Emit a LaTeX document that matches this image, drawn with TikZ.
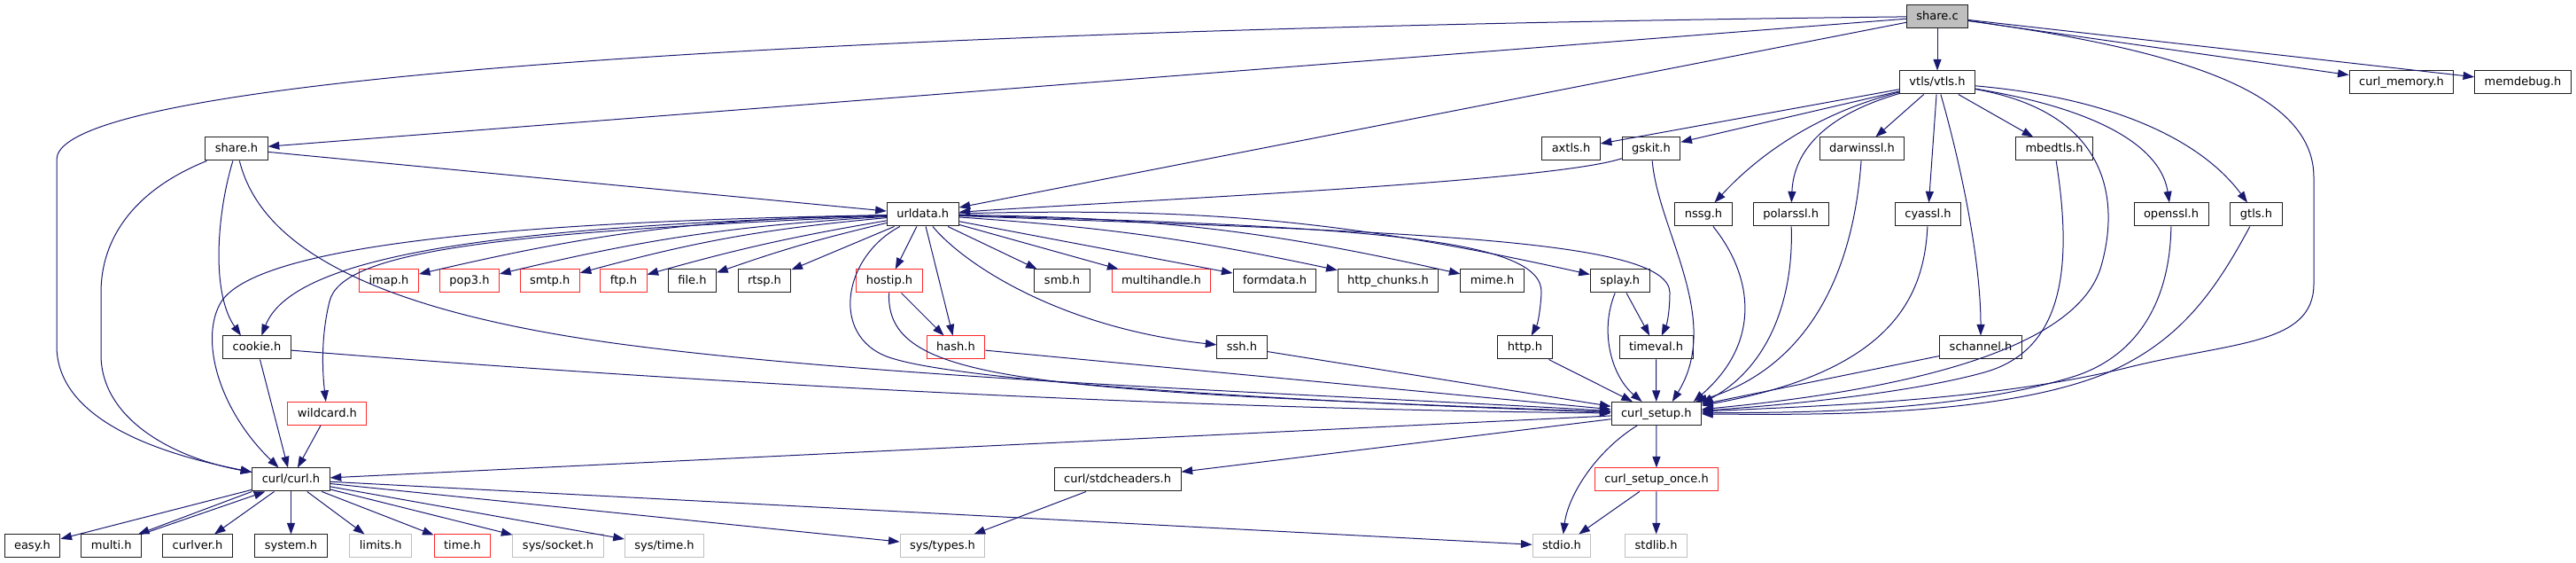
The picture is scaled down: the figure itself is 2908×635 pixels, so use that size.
\documentclass[tikz,border=0pt]{standalone}
\usepackage{fontspec}
\setmainfont{DejaVu Sans}
\usetikzlibrary{arrows.meta}

\definecolor{edgeblue}{RGB}{25,25,112}
\definecolor{boxgray}{RGB}{191,191,191}
\definecolor{boxred}{RGB}{255,40,40}
\definecolor{boxline}{RGB}{30,30,30}

\tikzset{
  hdr/.style={draw=boxline, fill=white, line width=0.5pt, inner xsep=5.5pt, inner ysep=0pt,
    minimum height=13pt, text height=4.9pt, text depth=1.3pt, font=\fontsize{6.5}{7.8}\selectfont},
  hdrred/.style={hdr, draw=boxred},
  hdrsys/.style={hdr, draw=boxgray},
  hdrmain/.style={hdr, fill=boxgray},
  inc/.style={draw=edgeblue, line width=0.5pt, -{Triangle[length=6.3pt,width=4.5pt]}}
}

\begin{document}
\begin{tikzpicture}[x=0.5pt,y=-0.5pt]
\useasboundingbox (0,0) rectangle (2908,635);

%Nodes: share.c and the ssl layer
\node[hdrmain] (sharec) at (2187,18.5) {share.c};
\node[hdr] (vtls) at (2187,93) {vtls/vtls.h};
\node[hdr] (curlmemory) at (2711,93) {curl\_memory.h};
\node[hdr] (memdebug) at (2848,93) {memdebug.h};
\node[hdr] (shareh) at (267,168) {share.h};
\node[hdr] (axtls) at (1773.5,168) {axtls.h};
\node[hdr] (gskit) at (1864,168) {gskit.h};
\node[hdr] (darwinssl) at (2102,168) {darwinssl.h};
\node[hdr] (mbedtls) at (2319,168) {mbedtls.h};
\node[hdr] (urldata) at (1041.7,242) {urldata.h};
\node[hdr] (nssg) at (1923,242) {nssg.h};
\node[hdr] (polarssl) at (2021.7,242) {polarssl.h};
\node[hdr] (cyassl) at (2176.5,242) {cyassl.h};
\node[hdr] (openssl) at (2451,242) {openssl.h};
\node[hdr] (gtls) at (2547,242) {gtls.h};

%Nodes: headers under urldata.h
\node[hdrred] (imap) at (439,317) {imap.h};
\node[hdrred] (pop3) at (530,317) {pop3.h};
\node[hdrred] (smtp) at (620.7,317) {smtp.h};
\node[hdrred] (ftp) at (704,317) {ftp.h};
\node[hdr] (fileh) at (781.5,317) {file.h};
\node[hdr] (rtsp) at (863,317) {rtsp.h};
\node[hdrred] (hostip) at (1004,317) {hostip.h};
\node[hdr] (smb) at (1199,317) {smb.h};
\node[hdrred] (multihandle) at (1311,317) {multihandle.h};
\node[hdr] (formdata) at (1439,317) {formdata.h};
\node[hdr] (httpchunks) at (1567,317) {http\_chunks.h};
\node[hdr] (mime) at (1684.6,317) {mime.h};
\node[hdr] (splay) at (1828.7,317) {splay.h};
\node[hdr] (cookie) at (290,392) {cookie.h};
\node[hdrred] (hash) at (1079,392) {hash.h};
\node[hdr] (ssh) at (1402,392) {ssh.h};
\node[hdr] (http) at (1721.5,392) {http.h};
\node[hdr] (timeval) at (1869.5,392) {timeval.h};
\node[hdr] (schannel) at (2236,392) {schannel.h};
\node[hdrred] (wildcard) at (369.4,466.5) {wildcard.h};
\node[hdr] (curlsetup) at (1869.8,466.5) {curl\_setup.h};

%Nodes: bottom rows
\node[hdr] (curlh) at (328.5,541) {curl/curl.h};
\node[hdr] (stdcheaders) at (1261.6,541) {curl/stdcheaders.h};
\node[hdrred] (setuponce) at (1870,541) {curl\_setup\_once.h};
\node[hdr] (easy) at (36.5,616) {easy.h};
\node[hdr] (multi) at (125.7,616) {multi.h};
\node[hdr] (curlver) at (223,616) {curlver.h};
\node[hdr] (system) at (328.5,616) {system.h};
\node[hdrsys] (limits) at (429.7,616) {limits.h};
\node[hdrred] (timeh) at (522,616) {time.h};
\node[hdrsys] (syssocket) at (630,616) {sys/socket.h};
\node[hdrsys] (systime) at (750,616) {sys/time.h};
\node[hdrsys] (systypes) at (1064,616) {sys/types.h};
\node[hdrsys] (stdio) at (1763,616) {stdio.h};
\node[hdrsys] (stdlib) at (1869.6,616) {stdlib.h};

%Edges from share.c
\draw[inc] (sharec) .. controls (1150,30) and (64,75) .. (64,180) -- (64,390) .. controls (64,470) and (170,510) .. (curlh);
\draw[inc] (sharec) -- (shareh);
\draw[inc] (sharec) -- (urldata);
\draw[inc] (sharec) -- (vtls);
\draw[inc] (sharec) .. controls (2450,55) and (2612,100) .. (2612,200) -- (2612,320) .. controls (2612,390) and (2520,385) .. (2400,415) .. controls (2250,452) and (2050,458) .. (curlsetup);
\draw[inc] (sharec) -- (curlmemory);
\draw[inc] (sharec) -- (memdebug);

%Edges from share.h
\draw[inc] (shareh) -- (urldata);
\draw[inc] (shareh) .. controls (290,260) and (380,345) .. (700,388) .. controls (1000,428) and (1500,445) .. (curlsetup);
\draw[inc] (shareh) .. controls (245,240) and (238,330) .. ([xshift=-9pt]cookie.north);
\draw[inc] (shareh) .. controls (150,215) and (114,270) .. (114,330) -- (114,400) .. controls (114,470) and (190,515) .. (curlh);

%Edges from urldata.h
\draw[inc] (urldata) to[bend right=6] (imap);
\draw[inc] (urldata) to[bend right=5] (pop3);
\draw[inc] (urldata) to[bend right=5] (smtp);
\draw[inc] (urldata) to[bend right=3] (ftp);
\draw[inc] (urldata) to[bend right=3] (fileh);
\draw[inc] (urldata) -- (rtsp);
\draw[inc] (urldata) -- (hostip);
\draw[inc] (urldata) -- (hash);
\draw[inc] (urldata) -- (smb);
\draw[inc] (urldata) -- (multihandle);
\draw[inc] (urldata) -- (formdata);
\draw[inc] (urldata) to[bend left=4] (httpchunks);
\draw[inc] (urldata) to[bend left=6] (mime);
\draw[inc] (urldata) to[bend left=7] (splay);
\draw[inc] (urldata) .. controls (1090,300) and (1200,370) .. (ssh);
\draw[inc] (urldata) .. controls (550,255) and (330,290) .. (cookie);
\draw[inc] (urldata) .. controls (550,250) and (290,280) .. (250,340) .. controls (225,380) and (245,460) .. (curlh);
\draw[inc] (urldata) .. controls (550,262) and (385,285) .. (372,340) .. controls (362,380) and (364,420) .. (wildcard);
\draw[inc] (urldata) .. controls (950,290) and (935,385) .. (1010,405) .. controls (1100,432) and (1500,455) .. (curlsetup);
\draw[inc] (urldata) .. controls (1550,255) and (1742,270) .. (1740,330) .. controls (1739,350) and (1736,365) .. (http);
\draw[inc] (urldata) .. controls (1600,262) and (1884,270) .. (1885,330) .. controls (1885,350) and (1882,365) .. (timeval);

%Edges of the middle rows
\draw[inc] (hostip) -- (hash);
\draw[inc] (hostip) .. controls (1000,430) and (1150,440) .. (curlsetup);
\draw[inc] (hash) -- (curlsetup);
\draw[inc] (ssh) -- (curlsetup);
\draw[inc] (cookie) .. controls (700,425) and (1250,460) .. (curlsetup);
\draw[inc] (cookie) -- (curlh);
\draw[inc] (wildcard) -- (curlh);
\draw[inc] (http) -- (curlsetup);
\draw[inc] (timeval) -- (curlsetup);
\draw[inc] (splay) -- (timeval);
\draw[inc] (splay) .. controls (1805,375) and (1820,425) .. (curlsetup);

%Edges from vtls/vtls.h
\draw[inc] (vtls) -- (axtls);
\draw[inc] (vtls) -- (gskit);
\draw[inc] (vtls) -- (darwinssl);
\draw[inc] (vtls) -- (cyassl);
\draw[inc] (vtls) -- (mbedtls);
\draw[inc] (vtls) .. controls (2050,128) and (1985,175) .. (nssg);
\draw[inc] (vtls) .. controls (2060,130) and (2025,170) .. (polarssl);
\draw[inc] (vtls) .. controls (2212,180) and (2236,290) .. (schannel);
\draw[inc] (vtls) .. controls (2380,125) and (2440,170) .. (openssl);
\draw[inc] (vtls) .. controls (2400,112) and (2490,165) .. (gtls);
\draw[inc] (vtls) .. controls (2385,128) and (2392,230) .. (2372,300) .. controls (2345,395) and (2150,440) .. (curlsetup);

%Edges from the ssl headers
\draw[inc] (gskit) .. controls (1750,205) and (1300,225) .. (urldata);
\draw[inc] (gskit) .. controls (1872,260) and (1945,360) .. ([xshift=9pt]curlsetup.north);
\draw[inc] (nssg) .. controls (1978,310) and (1990,385) .. ([xshift=21pt]curlsetup.north);
\draw[inc] (polarssl) .. controls (2025,340) and (1995,415) .. ([yshift=-1pt]curlsetup.north east);
\draw[inc] (darwinssl) .. controls (2092,310) and (2040,415) .. (curlsetup);
\draw[inc] (cyassl) .. controls (2172,340) and (2130,420) .. (curlsetup);
\draw[inc] (schannel) -- (curlsetup);
\draw[inc] (mbedtls) .. controls (2340,300) and (2330,395) .. (2240,420) .. controls (2150,445) and (2000,458) .. (curlsetup);
\draw[inc] (openssl) .. controls (2450,330) and (2420,400) .. (2340,425) .. controls (2200,468) and (2000,465) .. (curlsetup);
\draw[inc] (gtls) .. controls (2500,330) and (2460,385) .. (2380,420) .. controls (2260,470) and (2050,468) .. (curlsetup);

%Edges from curl_setup.h
\draw[inc] (curlsetup) -- (curlh);
\draw[inc] (curlsetup) -- (stdcheaders);
\draw[inc] (curlsetup) -- (setuponce);
\draw[inc] (curlsetup) .. controls (1800,510) and (1770,560) .. (stdio);
\draw[inc] (setuponce) -- (stdio);
\draw[inc] (setuponce) -- (stdlib);
\draw[inc] (stdcheaders) -- (systypes);

%Edges from curl/curl.h
\draw[inc] (curlh) -- (easy);
\draw[inc] (curlh.south west) -- ([xshift=-2pt]multi.north east);
\draw[inc] (multi.north east) -- ([xshift=7.5pt]curlh.south west);
\draw[inc] (curlh) -- (curlver);
\draw[inc] (curlh) -- (system);
\draw[inc] (curlh) -- (limits);
\draw[inc] (curlh) -- (timeh);
\draw[inc] (curlh) -- (syssocket);
\draw[inc] (curlh) -- (systime);
\draw[inc] (curlh) -- (systypes);
\draw[inc] (curlh) -- (stdio);

\end{tikzpicture}
\end{document}
